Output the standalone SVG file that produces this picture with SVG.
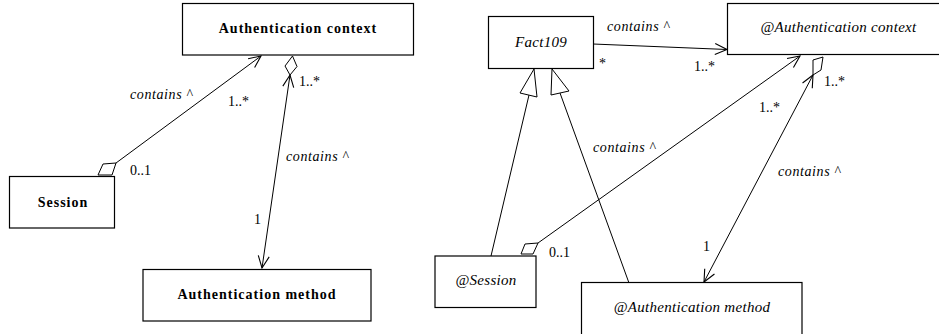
<svg xmlns="http://www.w3.org/2000/svg" width="939" height="334" viewBox="0 0 939 334" font-family="'Liberation Serif', 'DejaVu Serif', 'Times New Roman', Times, serif">
<defs>
<marker id="arr" markerUnits="userSpaceOnUse" markerWidth="16" markerHeight="14" refX="13" refY="6" orient="auto-start-reverse" overflow="visible">
<path d="M1,0.5 L13,6 L1,11.5" fill="none" stroke="#000" stroke-width="1.1"/>
</marker>
</defs>
<style>
text{font-family:'Liberation Serif','DejaVu Serif','Times New Roman',Times,serif}
.box{fill:#fff;stroke:#000;stroke-width:1.2}
.bn{font-weight:bold;font-size:14px;letter-spacing:1px;text-anchor:middle;fill:#000}
.in{font-style:italic;font-size:15px;letter-spacing:0.3px;text-anchor:middle;fill:#000}
.lbl{font-style:italic;font-size:14px;letter-spacing:0.6px;fill:#000}
.m{font-size:14px;fill:#000}
.ln{fill:none;stroke:#000;stroke-width:1}
.dia{fill:#fff;stroke:#000;stroke-width:1}
</style>
<g id="connectors">
<line class="ln" x1="116" y1="163" x2="261" y2="56" marker-end="url(#arr)"/>
<polygon class="dia" points="98,175 112,175 116,163 103,164"/>
<line class="ln" x1="290" y1="75" x2="262" y2="268" marker-start="url(#arr)" marker-end="url(#arr)"/>
<polygon class="dia" points="292.5,56 297,66.5 290,75 285,66"/>
<line class="ln" x1="593" y1="44" x2="727" y2="49.5" marker-end="url(#arr)"/>
<line class="ln" x1="529" y1="95" x2="491" y2="256"/>
<polygon class="dia" points="534,69 520,93 537,97"/>
<line class="ln" x1="560" y1="93" x2="629" y2="283"/>
<polygon class="dia" points="552,69 551,95 569,91"/>
<line class="ln" x1="538" y1="243" x2="800" y2="56" marker-end="url(#arr)"/>
<polygon class="dia" points="521,254 533,254 538,243 525,244"/>
<line class="ln" x1="813" y1="75" x2="704" y2="282" marker-start="url(#arr)" marker-end="url(#arr)"/>
<polygon class="dia" points="813,60 823,57 821,70 813,75"/>
</g>
<g id="labels">
<text class="lbl" x="130" y="99">contains ^</text>
<text class="m" x="228" y="106">1..*</text>
<text class="m" x="130" y="175">0..1</text>
<text class="m" x="299" y="86">1..*</text>
<text class="lbl" x="286" y="161">contains ^</text>
<text class="m" x="254" y="224">1</text>
<text class="lbl" x="607" y="31">contains ^</text>
<text class="m" x="599" y="68">*</text>
<text class="m" x="694" y="71">1..*</text>
<text class="m" x="759" y="112">1..*</text>
<text class="lbl" x="593" y="152">contains ^</text>
<text class="m" x="549" y="257">0..1</text>
<text class="m" x="824" y="86">1..*</text>
<text class="lbl" x="778" y="176">contains ^</text>
<text class="m" x="703" y="251">1</text>
</g>
<g id="auth-context">
<rect class="box" x="182.5" y="3.5" width="231" height="51.5"/>
<text class="bn" x="298" y="33">Authentication context</text>
</g>
<g id="session">
<rect class="box" x="9.5" y="176.5" width="105" height="51.5"/>
<text class="bn" x="63" y="207">Session</text>
</g>
<g id="auth-method">
<rect class="box" x="143" y="269.5" width="228" height="51.5"/>
<text class="bn" x="257" y="299">Authentication method</text>
</g>
<g id="fact109">
<rect class="box" x="488.5" y="16.5" width="105" height="52"/>
<text class="in" x="541" y="47">Fact109</text>
</g>
<g id="at-auth-context">
<rect class="box" x="727.5" y="3.5" width="222" height="51"/>
<text class="in" x="838.5" y="32">@Authentication context</text>
</g>
<g id="at-session">
<rect class="box" x="435" y="256" width="101" height="51.5"/>
<text class="in" x="486" y="285">@Session</text>
</g>
<g id="at-auth-method">
<rect class="box" x="581.5" y="282.5" width="220.5" height="53"/>
<text class="in" x="692" y="312">@Authentication method</text>
</g>
</svg>
